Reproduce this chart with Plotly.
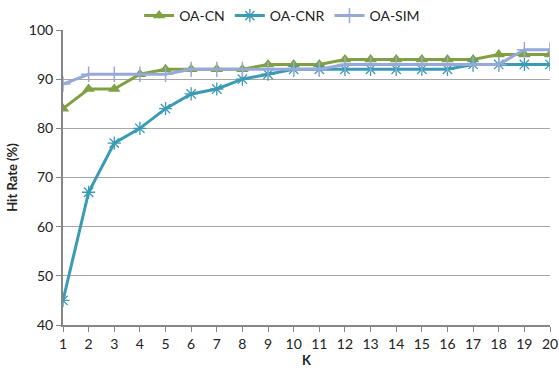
import plotly.graph_objects as go

k_values = list(range(1, 21))
oa_cn = [84, 88, 88, 91, 92, 92, 92, 92, 93, 93, 93, 94, 94, 94, 94, 94, 94, 95, 95, 95]
oa_cnr = [45, 67, 77, 80, 84, 87, 88, 90, 91, 92, 92, 92, 92, 92, 92, 92, 93, 93, 93, 93]
oa_sim = [89, 91, 91, 91, 91, 92, 92, 92, 92, 92, 92, 93, 93, 93, 93, 93, 93, 93, 96, 96]
y_ticks = [40, 50, 60, 70, 80, 90, 100]

FONT = "Lato, 'Open Sans', sans-serif"

fig = go.Figure()
fig.add_trace(go.Scatter(
    x=k_values, y=oa_cn, name="OA-CN", mode="lines+markers",
    line=dict(color="#7FA143", width=3),
    marker=dict(symbol="triangle-up", size=11, color="#7FA143"),
))
fig.add_trace(go.Scatter(
    x=k_values, y=oa_cnr, name="OA-CNR", mode="lines+markers",
    line=dict(color="#3B9AB4", width=3),
    marker=dict(symbol="asterisk-open", size=11,
                line=dict(color="#4BACC6", width=1.3)),
))
fig.add_trace(go.Scatter(
    x=k_values, y=oa_sim, name="OA-SIM", mode="lines+markers",
    line=dict(color="#97A9D8", width=3),
    marker=dict(symbol="cross-thin-open", size=11,
                line=dict(color="#97A9D8", width=1.5)),
))

fig.update_layout(
    width=559, height=371,
    margin=dict(l=63, r=9, t=30, b=46, autoexpand=False),
    paper_bgcolor="white", plot_bgcolor="white",
    font=dict(family=FONT, size=14, color="#222222"),
    legend=dict(orientation="h", x=0.45, xanchor="center",
                yref="container", y=1.0, yanchor="top",
                font=dict(size=14), itemwidth=30, traceorder="normal",
                bgcolor="rgba(0,0,0,0)"),
    showlegend=True,
)
fig.update_xaxes(
    range=[1, 20], tickmode="array", tickvals=k_values,
    ticks="outside", ticklen=5, tickcolor="#868686",
    showline=True, linecolor="#868686", linewidth=2,
    showgrid=False, zeroline=False,
    title=dict(text="<b>K</b>", font=dict(size=13), standoff=3),
)
fig.update_yaxes(
    range=[40, 100], tickmode="array", tickvals=y_ticks,
    ticks="outside", ticklen=5, tickcolor="#868686",
    showline=True, linecolor="#868686", linewidth=2,
    showgrid=True, gridcolor="#A6A6A6", gridwidth=1, zeroline=False,
    title=dict(text="<b>Hit Rate (%)</b>", font=dict(size=13), standoff=8),
)

fig.write_html("out.html")
